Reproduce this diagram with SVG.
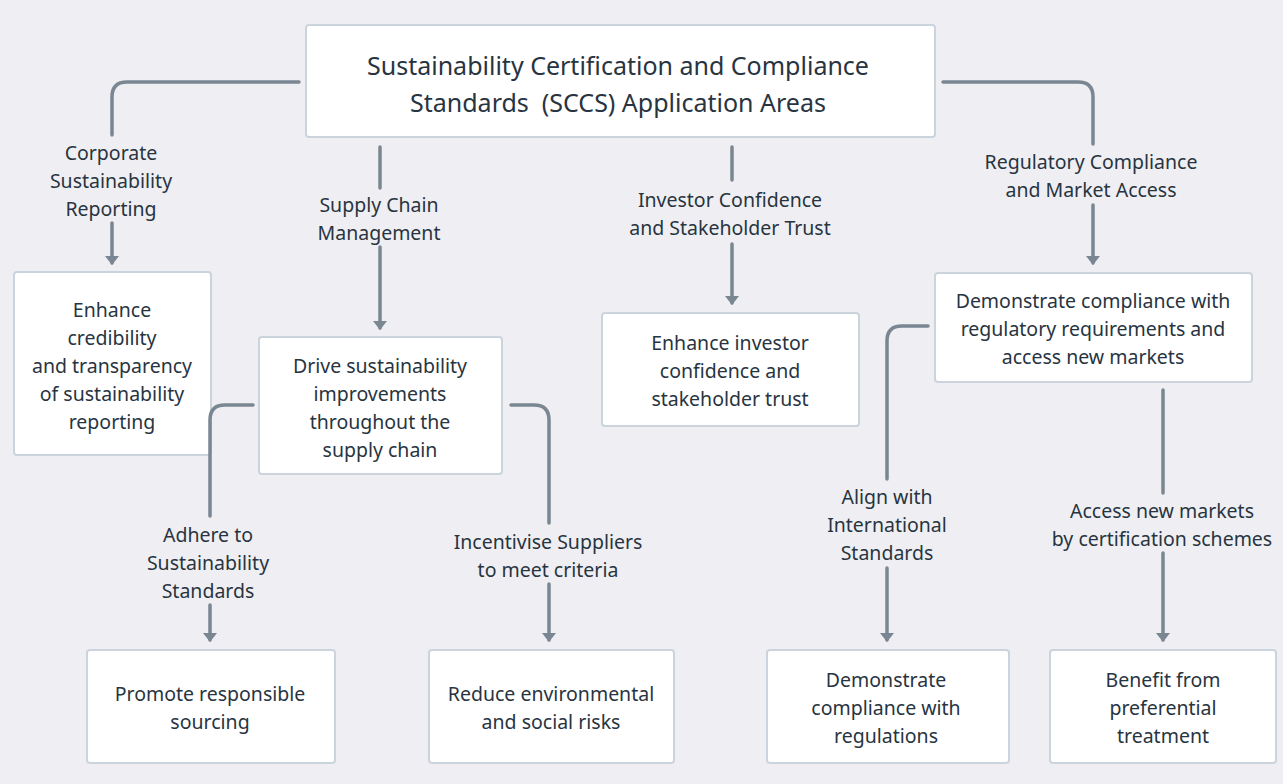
<svg xmlns="http://www.w3.org/2000/svg" width="1283" height="784" viewBox="0 0 1283 784">
<defs>
<style>
.bg{fill:#EFEFF3}
.box{fill:#FFFFFF;stroke:#CBD3DC;stroke-width:2}
.t{font-family:"Noto Sans","DejaVu Sans",sans-serif;font-size:19.5px;fill:#28343F;text-anchor:middle;dominant-baseline:central;white-space:pre}
.title{font-size:25px}
.c{fill:none;stroke:#7A8792;stroke-width:3.5;stroke-linecap:round;stroke-linejoin:round}
</style>
<marker id="ah" markerUnits="userSpaceOnUse" markerWidth="10" markerHeight="14" refX="7" refY="7" orient="auto" viewBox="0 0 10 14">
<path d="M0,0 L9,7 L0,14 z" fill="#7A8792"/>
</marker>
</defs>
<rect class="bg" x="0" y="0" width="1283" height="784"/>

<g id="root">
<rect class="box" x="306" y="25" width="629" height="112" rx="3"/>
<text class="t title" x="618" y="65">Sustainability Certification and Compliance</text>
<text class="t title" x="618" y="102" xml:space="preserve">Standards  (SCCS) Application Areas</text>
</g>

<g id="n-reporting">
<rect class="box" x="14" y="272" width="197" height="183" rx="3"/>
<text class="t" x="112" y="309">Enhance</text>
<text class="t" x="112" y="337">credibility</text>
<text class="t" x="112" y="365">and transparency</text>
<text class="t" x="112" y="393">of sustainability</text>
<text class="t" x="112" y="421">reporting</text>
</g>

<g id="n-supply">
<rect class="box" x="259" y="337" width="243" height="137" rx="3"/>
<text class="t" x="380" y="365">Drive sustainability</text>
<text class="t" x="380" y="393">improvements</text>
<text class="t" x="380" y="421">throughout the</text>
<text class="t" x="380" y="449">supply chain</text>
</g>

<g id="n-sourcing">
<rect class="box" x="87" y="650" width="248" height="113" rx="3"/>
<text class="t" x="210" y="693">Promote responsible</text>
<text class="t" x="210" y="721">sourcing</text>
</g>

<g id="n-risks">
<rect class="box" x="429" y="650" width="245" height="113" rx="3"/>
<text class="t" x="551" y="693">Reduce environmental</text>
<text class="t" x="551" y="721">and social risks</text>
</g>

<g id="n-investor">
<rect class="box" x="602" y="313" width="257" height="113" rx="3"/>
<text class="t" x="730" y="342">Enhance investor</text>
<text class="t" x="730" y="370">confidence and</text>
<text class="t" x="730" y="398">stakeholder trust</text>
</g>

<g id="n-regulatory">
<rect class="box" x="935" y="273" width="317" height="109" rx="3"/>
<text class="t" x="1093" y="300">Demonstrate compliance with</text>
<text class="t" x="1093" y="328">regulatory requirements and</text>
<text class="t" x="1093" y="356">access new markets</text>
</g>

<g id="n-regulations">
<rect class="box" x="767" y="650" width="242" height="113" rx="3"/>
<text class="t" x="886" y="679">Demonstrate</text>
<text class="t" x="886" y="707">compliance with</text>
<text class="t" x="886" y="735">regulations</text>
</g>

<g id="n-preferential">
<rect class="box" x="1050" y="650" width="226" height="113" rx="3"/>
<text class="t" x="1163" y="679">Benefit from</text>
<text class="t" x="1163" y="707">preferential</text>
<text class="t" x="1163" y="735">treatment</text>
</g>

<g id="connectors">
<path class="c" d="M299,82 H127 Q112,82 112,97 V135"/>
<path class="c" d="M112,223 V263" marker-end="url(#ah)"/>
<path class="c" d="M380,147 V188"/>
<path class="c" d="M380,247 V328" marker-end="url(#ah)"/>
<path class="c" d="M253,405 H225 Q210,405 210,420 V516"/>
<path class="c" d="M210,605 V640" marker-end="url(#ah)"/>
<path class="c" d="M511,405 H534 Q549,405 549,420 V523"/>
<path class="c" d="M549,584 V640" marker-end="url(#ah)"/>
<path class="c" d="M732,147 V180"/>
<path class="c" d="M732,244 V303" marker-end="url(#ah)"/>
<path class="c" d="M943,82 H1078 Q1093,82 1093,97 V144"/>
<path class="c" d="M1093,205 V263" marker-end="url(#ah)"/>
<path class="c" d="M928,326 H902 Q887,326 887,341 V479"/>
<path class="c" d="M887,568 V640" marker-end="url(#ah)"/>
<path class="c" d="M1163,390 V493"/>
<path class="c" d="M1163,553 V640" marker-end="url(#ah)"/>
</g>

<g id="edge-labels">
<text class="t" x="111" y="152">Corporate</text>
<text class="t" x="111" y="180">Sustainability</text>
<text class="t" x="111" y="208">Reporting</text>
<text class="t" x="379" y="204">Supply Chain</text>
<text class="t" x="379" y="232">Management</text>
<text class="t" x="208" y="534">Adhere to</text>
<text class="t" x="208" y="562">Sustainability</text>
<text class="t" x="208" y="590">Standards</text>
<text class="t" x="548" y="541">Incentivise Suppliers</text>
<text class="t" x="548" y="569">to meet criteria</text>
<text class="t" x="730" y="199">Investor Confidence</text>
<text class="t" x="730" y="227">and Stakeholder Trust</text>
<text class="t" x="1091" y="161">Regulatory Compliance</text>
<text class="t" x="1091" y="189">and Market Access</text>
<text class="t" x="887" y="496">Align with</text>
<text class="t" x="887" y="524">International</text>
<text class="t" x="887" y="552">Standards</text>
<text class="t" x="1162" y="510">Access new markets</text>
<text class="t" x="1162" y="538">by certification schemes</text>
</g>
</svg>
